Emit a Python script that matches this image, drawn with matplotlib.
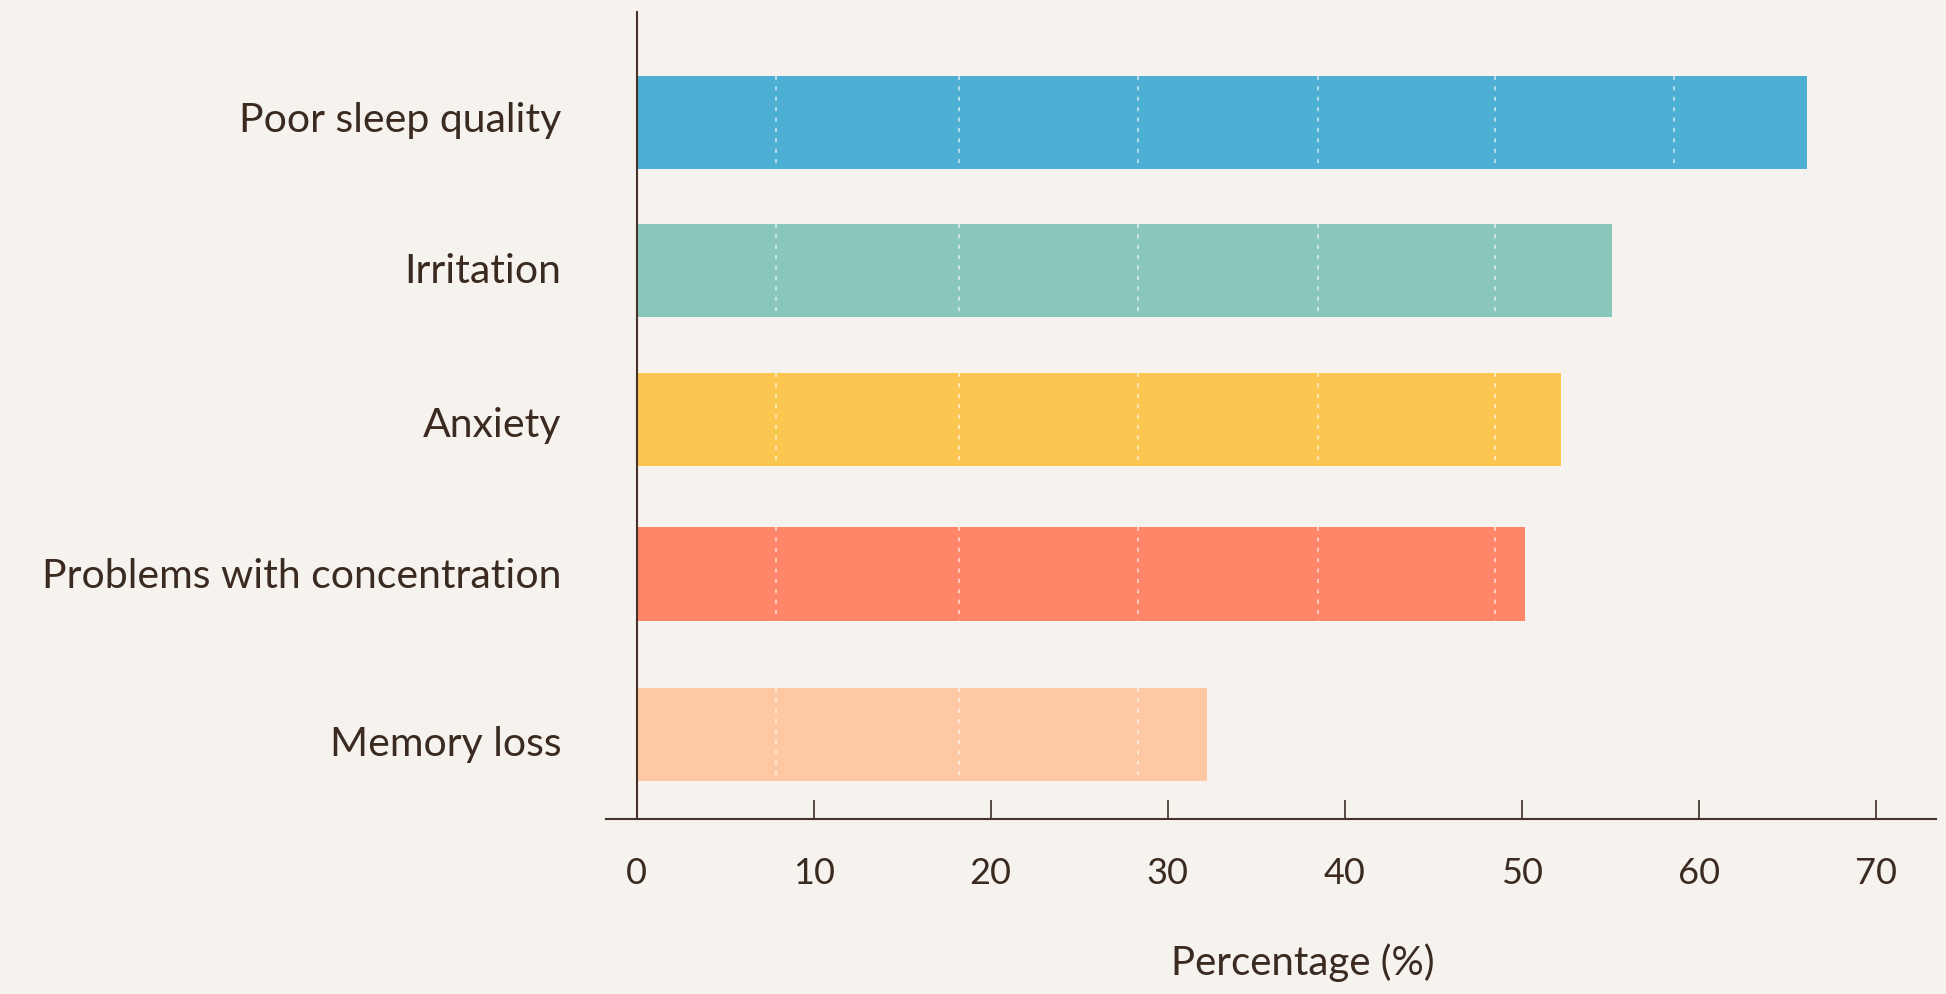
import matplotlib
matplotlib.use("Agg")
import matplotlib.pyplot as plt

# data
symptoms = ["Poor sleep quality", "Irritation", "Anxiety",
            "Problems with concentration", "Memory loss"]
percent = [66.1, 55.1, 52.2, 50.2, 32.2]
colors = ["#4DAFD3", "#89C7BA", "#FBC751", "#FF8669", "#FFC8A4"]
x_ticks = [0, 10, 20, 30, 40, 50, 60, 70]

# layout (bars and labels are slightly uneven in the original)
bar_pos = [0, 0.967, 1.941, 2.948, 4.0]
label_pos = [-0.046, 0.941, 1.948, 2.935, 4.033]
bar_h = 0.608
grid_x = [7.9, 18.2, 28.3, 38.5, 48.5, 58.6]

bg = "#F6F2EE"
ink = "#3A2A1F"

plt.rcParams['font.family'] = ['Lato', 'DejaVu Sans']

fig = plt.figure(figsize=(19.46, 9.95), dpi=100, facecolor=bg)
ax = fig.add_axes([0.3114, 0.1759, 0.6835, 0.8111])
ax.set_facecolor(bg)

ax.barh(bar_pos, percent, height=bar_h, color=colors, zorder=2)

# dashed white grid only inside the bars
for y, v in zip(bar_pos, percent):
	xs = [g for g in grid_x if g < v]
	ax.vlines(xs, y - bar_h / 2, y + bar_h / 2, colors="white", alpha=0.75,
			  linewidth=1.1, linestyles=(0, (2.6, 4.2)), zorder=3)

ax.set_xlim(-1.73, 73.4)
ax.set_ylim(4.549, -0.725)

for s in ["top", "right"]:
	ax.spines[s].set_visible(False)
ax.spines["left"].set_position(("data", 0))
ax.spines["left"].set_color("#46332A")
ax.spines["left"].set_linewidth(1.5)
ax.spines["bottom"].set_color("#46332A")
ax.spines["bottom"].set_linewidth(1.5)

ax.set_xticks(x_ticks)
ax.tick_params(axis="x", direction="in", length=14, width=1.1, color="#2B1D14",
			   pad=27, labelsize=26, labelcolor=ink)
ax.set_yticks(label_pos, symptoms)
ax.tick_params(axis="y", length=0, pad=54, labelsize=29.5, labelcolor=ink)

ax.set_xlabel("Percentage (%)", fontsize=29, color=ink)
ax.xaxis.set_label_coords(0.524, -0.177)
ax.xaxis.label.set_va("center")

fig.savefig("out.png", dpi=100, facecolor=bg)
